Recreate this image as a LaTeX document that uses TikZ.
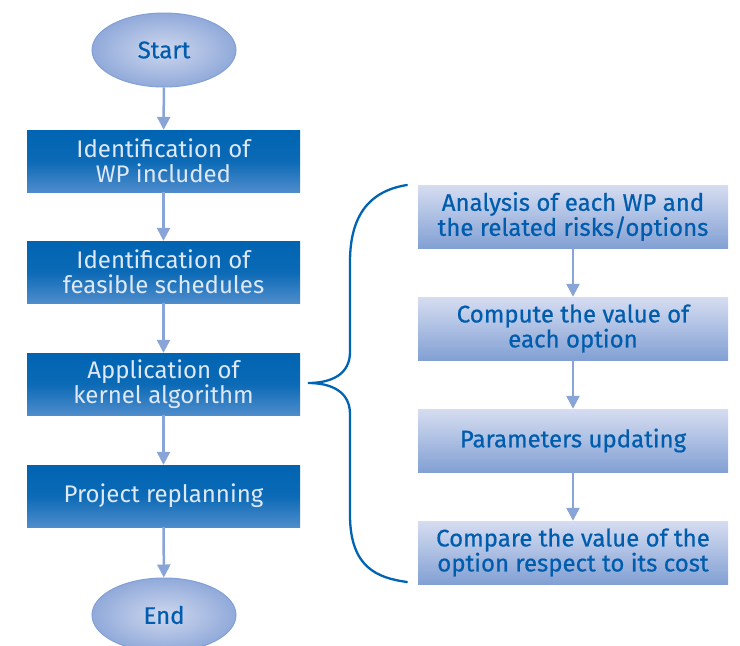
\documentclass[tikz,border=0pt]{standalone}
\usepackage{fontspec}
\setmainfont{Fira Sans}
\newfontfamily\inkfont{Fira Sans}[FakeBold=0.6]
\usetikzlibrary{arrows.meta,shadings,shapes.geometric}
\definecolor{darkblue}{RGB}{0,100,178}
\definecolor{midblue}{RGB}{78,140,204}
\definecolor{paleblue}{RGB}{214,221,241}
\definecolor{softblue}{RGB}{130,160,212}
\definecolor{arrowblue}{RGB}{137,165,216}
\definecolor{lighttext}{RGB}{222,232,246}
\definecolor{inktext}{RGB}{0,92,172}
\definecolor{ovalin}{RGB}{206,215,238}
\definecolor{ovalout}{RGB}{145,170,218}
\begin{document}
\begin{tikzpicture}[x=1pt,y=-1pt,
  mainbox/.style={rectangle,minimum width=273pt,minimum height=62pt,inner sep=0pt,
    top color=darkblue,bottom color=midblue,middle color=darkblue!85!midblue,
    text=lighttext,align=center,font=\fontsize{24}{25}\selectfont},
  subbox/.style={rectangle,minimum width=310pt,minimum height=63pt,inner sep=0pt,
    top color=paleblue,bottom color=softblue,
    text=inktext,align=center,font=\inkfont\fontsize{24}{25}\selectfont},
  oval/.style={ellipse,minimum width=144pt,minimum height=74pt,inner sep=0pt,
    inner color=ovalin,outer color=ovalout,draw=softblue,line width=1pt,
    text=inktext,font=\inkfont\fontsize{24}{25}\selectfont},
  flow/.style={arrowblue,line width=2.5pt,-{Triangle[width=13pt,length=13pt]}},
  bracket/.style={darkblue,line width=2.3pt,line cap=round}]
\useasboundingbox (0,0) rectangle (740,646);
\begin{scope}
\clip (0,0) rectangle (740,646);
\node[oval] (start) at (164,50) {Start};
\node[mainbox] (m1) at (163.5,161) {Identification of\\WP included};
\node[mainbox] (m2) at (163.5,272) {Identification of\\feasible schedules};
\node[mainbox] (m3) at (163.5,384) {Application of\\kernel algorithm};
\node[mainbox] (m4) at (163.5,496) {Project replanning};
\node[oval] (end) at (164,615) {End};

\node[subbox] (s1) at (573,216.5) {Analysis of each WP and\\the related risks/options};
\node[subbox] (s2) at (573,328.5) {Compute the value of\\each option};
\node[subbox] (s3) at (573,440.5) {Parameters updating};
\node[subbox] (s4) at (573,552.5) {Compare the value of the\\option respect to its cost};

\draw[flow] (start) -- (m1);
\draw[flow] (m1) -- (m2);
\draw[flow] (m2) -- (m3);
\draw[flow] (m3) -- (m4);
\draw[flow] (m4) -- (end);
\draw[flow] (s1) -- (s2);
\draw[flow] (s2) -- (s3);
\draw[flow] (s3) -- (s4);

% curly brace grouping the sub-steps of the kernel algorithm
\coordinate (btop) at (407,185);
\coordinate (bbot) at (407,582);
\coordinate (btip) at (308,383);
\draw[bracket] (btop) .. controls (362,192) and (350,225) .. (350,262)
  -- (350,352) .. controls (350,374) and (332,383) .. (btip)
  .. controls (332,383) and (350,392) .. (350,414)
  -- (350,515) .. controls (350,568) and (378,578) .. (bbot);
\end{scope}
\end{tikzpicture}
\end{document}
